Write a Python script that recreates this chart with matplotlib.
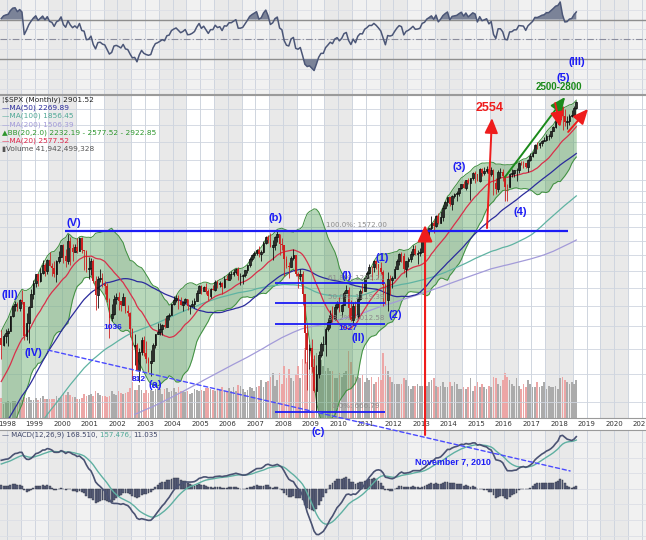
import numpy as np
import pandas as pd
import matplotlib
matplotlib.use("Agg")
import matplotlib.pyplot as plt
from matplotlib.patches import ConnectionPatch

# $SPX monthly closes from Jan 1986 (bars before Oct 1997 only warm up the indicators)
first_year = 1986
spx_close = [
    211.78, 226.92, 238.90, 235.52, 247.35, 250.84, 236.12, 252.93, 231.32, 243.98, 249.22, 242.17,  # 1986
    274.08, 284.20, 291.70, 288.36, 290.10, 304.00, 318.66, 329.80, 321.83, 251.79, 230.30, 247.08,  # 1987
    257.07, 267.82, 258.89, 261.33, 262.16, 273.50, 272.02, 261.52, 271.91, 278.97, 273.70, 277.72,  # 1988
    297.47, 288.86, 294.87, 309.64, 320.52, 317.98, 346.08, 351.45, 349.15, 340.36, 345.99, 353.40,  # 1989
    329.08, 331.89, 339.94, 330.80, 361.23, 358.02, 356.15, 322.56, 306.05, 304.00, 322.22, 330.22,  # 1990
    343.93, 367.07, 375.22, 375.35, 389.83, 371.16, 387.81, 395.43, 387.86, 392.46, 375.22, 417.09,  # 1991
    408.79, 412.70, 403.69, 414.95, 415.35, 408.14, 424.21, 414.03, 417.80, 418.68, 431.35, 435.71,  # 1992
    438.78, 443.38, 451.67, 440.19, 450.19, 450.53, 448.13, 463.56, 458.93, 467.83, 461.79, 466.45,  # 1993
    481.61, 467.14, 445.77, 450.91, 456.50, 444.27, 458.26, 475.49, 462.69, 472.35, 453.69, 459.27,  # 1994
    470.42, 487.39, 500.71, 514.71, 533.40, 544.75, 562.06, 561.88, 584.41, 581.50, 605.37, 615.93,  # 1995
    636.02, 640.43, 645.50, 654.17, 669.12, 670.63, 639.95, 651.99, 687.33, 705.27, 757.02, 740.74,  # 1996
    786.16, 790.82, 757.12, 801.34, 848.28, 885.14, 954.31, 899.47, 947.28, 914.62, 955.40, 970.43,  # 1997
    980.28, 1049.34, 1101.75, 1111.75, 1090.82, 1133.84, 1120.67, 957.28, 1017.01, 1098.67, 1163.63, 1229.23,  # 1998
    1279.64, 1238.33, 1286.37, 1335.18, 1301.84, 1372.71, 1328.72, 1320.41, 1282.71, 1362.93, 1388.91, 1469.25,  # 1999
    1394.46, 1366.42, 1498.58, 1452.43, 1420.60, 1454.60, 1430.83, 1517.68, 1436.51, 1429.40, 1314.95, 1320.28,  # 2000
    1366.01, 1239.94, 1160.33, 1249.46, 1255.82, 1224.42, 1211.23, 1133.58, 1040.94, 1059.78, 1139.45, 1148.08,  # 2001
    1130.20, 1106.73, 1147.39, 1076.92, 1067.14, 989.82, 911.62, 916.07, 815.28, 885.76, 936.31, 879.82,  # 2002
    855.70, 841.15, 848.18, 916.92, 963.59, 974.50, 990.31, 1008.01, 995.97, 1050.71, 1058.20, 1111.92,  # 2003
    1131.13, 1144.94, 1126.21, 1107.30, 1120.68, 1140.84, 1101.72, 1104.24, 1114.58, 1130.20, 1173.82, 1211.92,  # 2004
    1181.27, 1203.60, 1180.59, 1156.85, 1191.50, 1191.33, 1234.18, 1220.33, 1228.81, 1207.01, 1249.48, 1248.29,  # 2005
    1280.08, 1280.66, 1294.83, 1310.61, 1270.09, 1270.20, 1276.66, 1303.82, 1335.85, 1377.94, 1400.63, 1418.30,  # 2006
    1438.24, 1406.82, 1420.86, 1482.37, 1530.62, 1503.35, 1455.27, 1473.99, 1526.75, 1549.38, 1481.14, 1468.36,  # 2007
    1378.55, 1330.63, 1322.70, 1385.59, 1400.38, 1280.00, 1267.38, 1282.83, 1166.36, 968.75, 896.24, 903.25,  # 2008
    825.88, 735.09, 797.87, 872.81, 919.14, 919.32, 987.48, 1020.62, 1057.08, 1036.19, 1095.63, 1115.10,  # 2009
    1073.87, 1104.49, 1169.43, 1186.69, 1089.41, 1030.71, 1101.60, 1049.33, 1141.20, 1183.26, 1180.55, 1257.64,  # 2010
    1286.12, 1327.22, 1325.83, 1363.61, 1345.20, 1320.64, 1292.28, 1218.89, 1131.42, 1253.30, 1246.96, 1257.60,  # 2011
    1312.41, 1365.68, 1408.47, 1397.91, 1310.33, 1362.16, 1379.32, 1406.58, 1440.67, 1412.16, 1416.18, 1426.19,  # 2012
    1498.11, 1514.68, 1569.19, 1597.57, 1630.74, 1606.28, 1685.73, 1632.97, 1681.55, 1756.54, 1805.81, 1848.36,  # 2013
    1782.59, 1859.45, 1872.34, 1883.95, 1923.57, 1960.23, 1930.67, 2003.37, 1972.29, 2018.05, 2067.56, 2058.90,  # 2014
    1994.99, 2104.50, 2067.89, 2085.51, 2107.39, 2063.11, 2103.84, 1972.18, 1920.03, 2079.36, 2080.41, 2043.94,  # 2015
    1940.24, 1932.23, 2059.74, 2065.30, 2096.95, 2098.86, 2173.60, 2170.95, 2168.27, 2126.15, 2198.81, 2238.83,  # 2016
    2278.87, 2363.64, 2362.72, 2384.20, 2411.80, 2423.41, 2470.30, 2471.65, 2519.36, 2575.26, 2647.58, 2673.61,  # 2017
    2823.81, 2713.83, 2640.87, 2648.05, 2705.27, 2718.37, 2816.29, 2901.52,  # 2018
]
shown_from = (1997 - first_year) * 12 + 9   # first drawn bar: Oct 1997

# highs / lows / volume (billions) of the drawn bars, Oct 1997 .. Aug 2018
spx_high = [
    983.1, 963.1, 986.3,
    992.7, 1051.0, 1105.7, 1130.5, 1123.0, 1138.0, 1190.6, 1121.0, 1066.0, 1103.8, 1193.0, 1244.9,
    1280.3, 1283.8, 1316.6, 1371.6, 1347.8, 1376.8, 1420.3, 1352.9, 1361.9, 1373.2, 1427.0, 1473.1,
    1478.0, 1444.6, 1552.9, 1527.2, 1481.5, 1474.6, 1517.3, 1525.2, 1530.1, 1436.5, 1438.5, 1389.1,
    1383.4, 1376.4, 1267.4, 1269.3, 1315.9, 1286.6, 1239.8, 1226.3, 1141.8, 1110.6, 1163.4, 1173.0,
    1176.6, 1130.2, 1173.9, 1147.8, 1106.6, 1070.7, 994.5, 965.0, 924.0, 900.9, 951.6, 954.3,
    935.0, 864.6, 895.9, 924.2, 965.4, 1015.3, 1015.4, 1011.0, 1040.3, 1053.8, 1063.7, 1112.6,
    1155.4, 1159.0, 1163.2, 1150.6, 1127.7, 1146.3, 1140.8, 1108.6, 1131.5, 1142.1, 1188.5, 1217.9,
    1217.8, 1212.4, 1229.1, 1191.9, 1199.6, 1219.6, 1245.2, 1245.9, 1243.1, 1233.3, 1270.6, 1275.8,
    1294.9, 1297.6, 1310.9, 1318.2, 1326.7, 1290.7, 1280.4, 1306.7, 1340.3, 1389.5, 1407.9, 1431.8,
    1441.6, 1461.6, 1438.9, 1498.0, 1535.6, 1540.6, 1555.9, 1503.9, 1538.7, 1576.1, 1552.8, 1523.6,
    1471.8, 1396.0, 1359.7, 1397.0, 1440.2, 1404.1, 1292.2, 1313.2, 1303.0, 1167.0, 1007.5, 918.9,
    943.9, 875.0, 833.0, 888.7, 930.2, 956.2, 996.7, 1039.5, 1080.2, 1101.4, 1113.7, 1130.4,
    1150.5, 1112.4, 1180.2, 1219.8, 1206.1, 1131.2, 1121.0, 1129.2, 1148.7, 1196.1, 1227.1, 1262.6,
    1302.7, 1344.1, 1332.3, 1370.6, 1370.6, 1345.2, 1356.5, 1307.4, 1229.3, 1292.7, 1277.6, 1269.4,
    1333.5, 1378.0, 1419.2, 1422.4, 1415.3, 1363.5, 1391.7, 1426.7, 1474.5, 1471.0, 1434.3, 1448.0,
    1509.9, 1530.9, 1570.3, 1597.6, 1687.2, 1654.2, 1698.8, 1709.7, 1729.9, 1775.2, 1813.6, 1849.4,
    1850.8, 1867.9, 1884.0, 1897.3, 1924.0, 1968.2, 1991.4, 2005.0, 2019.3, 2018.2, 2075.8, 2093.6,
    2064.4, 2119.6, 2117.5, 2125.9, 2134.7, 2129.9, 2132.8, 2112.7, 2020.9, 2094.3, 2116.5, 2104.3,
    2038.2, 1963.0, 2072.2, 2111.0, 2099.1, 2120.6, 2177.1, 2193.8, 2187.9, 2169.6, 2214.1, 2277.5,
    2301.0, 2371.5, 2401.0, 2398.2, 2418.7, 2453.8, 2484.0, 2490.9, 2519.4, 2582.0, 2657.7, 2695.0,
    2872.9, 2836.0, 2801.9, 2717.5, 2742.2, 2791.5, 2848.0, 2916.5,
]
spx_low = [
    855.3, 912.0, 924.9,
    912.8, 980.0, 1047.0, 1076.7, 1074.0, 1074.6, 1114.0, 940.0, 939.7, 923.3, 1098.0, 1136.9,
    1205.5, 1211.9, 1234.6, 1282.0, 1271.9, 1281.4, 1328.7, 1268.4, 1261.9, 1233.7, 1348.0, 1387.4,
    1350.1, 1325.1, 1346.6, 1339.4, 1361.1, 1420.6, 1413.9, 1430.8, 1419.4, 1305.8, 1294.9, 1254.1,
    1274.6, 1228.5, 1081.2, 1091.9, 1232.0, 1203.0, 1165.5, 1124.9, 944.8, 1026.8, 1054.3, 1114.9,
    1081.7, 1074.4, 1106.7, 1063.5, 1048.9, 952.9, 775.7, 833.4, 815.3, 768.6, 872.0, 869.5,
    840.3, 806.3, 788.9, 847.9, 902.8, 963.6, 962.1, 960.8, 990.4, 996.0, 1031.2, 1053.4,
    1105.1, 1124.4, 1087.1, 1107.2, 1076.3, 1113.3, 1078.8, 1060.7, 1101.3, 1090.2, 1127.6, 1173.8,
    1163.8, 1180.5, 1163.7, 1136.2, 1146.2, 1188.3, 1183.6, 1201.1, 1205.4, 1168.2, 1201.1, 1246.6,
    1245.7, 1253.6, 1268.0, 1280.7, 1245.3, 1219.3, 1224.5, 1261.3, 1290.9, 1327.1, 1361.0, 1385.9,
    1404.0, 1389.4, 1364.0, 1416.4, 1476.7, 1484.2, 1454.3, 1370.6, 1439.3, 1489.6, 1406.1, 1435.7,
    1270.1, 1316.8, 1257.0, 1324.3, 1373.1, 1272.0, 1200.4, 1247.4, 1106.4, 839.8, 741.0, 815.7,
    804.3, 734.5, 666.8, 783.3, 866.1, 888.9, 869.3, 978.5, 992.3, 1020.2, 1029.4, 1085.9,
    1071.6, 1044.5, 1105.4, 1170.7, 1040.8, 1028.3, 1010.9, 1039.7, 1041.3, 1131.9, 1173.0, 1180.9,
    1257.6, 1282.9, 1249.0, 1294.7, 1311.8, 1258.1, 1282.9, 1101.5, 1114.2, 1074.8, 1158.7, 1202.4,
    1258.9, 1312.4, 1340.0, 1357.4, 1291.0, 1266.7, 1325.4, 1354.7, 1396.6, 1403.3, 1343.4, 1398.1,
    1426.2, 1485.0, 1501.5, 1536.0, 1581.3, 1560.3, 1604.6, 1627.5, 1633.4, 1646.5, 1746.2, 1768.0,
    1770.5, 1737.9, 1834.4, 1814.4, 1859.8, 1916.0, 1930.7, 1904.8, 1964.0, 1820.7, 2001.0, 1972.6,
    1988.1, 1980.9, 2039.7, 2048.4, 2067.9, 2056.3, 2044.0, 1867.0, 1871.9, 1893.7, 2019.4, 1993.3,
    1812.3, 1810.1, 1937.1, 2033.8, 2025.9, 1991.7, 2074.0, 2147.6, 2119.1, 2114.7, 2084.0, 2187.4,
    2233.6, 2271.7, 2322.3, 2329.0, 2352.7, 2405.7, 2407.7, 2417.4, 2446.6, 2520.4, 2566.2, 2605.5,
    2682.4, 2532.7, 2585.9, 2553.8, 2594.6, 2698.7, 2699.0, 2796.3,
]
volume_bn = [
    22, 16, 18,
    19, 17, 19, 19, 17, 18, 20, 23, 22, 23, 20, 20,
    22, 20, 22, 24, 21, 21, 21, 21, 21, 24, 22, 23,
    27, 26, 29, 26, 23, 23, 21, 21, 22, 27, 24, 26,
    27, 24, 30, 28, 26, 25, 25, 23, 25, 30, 27, 26,
    30, 28, 27, 28, 29, 33, 40, 31, 31, 37, 31, 28,
    31, 28, 31, 30, 32, 34, 32, 27, 32, 33, 29, 30,
    33, 29, 34, 30, 30, 29, 30, 27, 28, 32, 31, 30,
    31, 30, 33, 33, 32, 31, 30, 31, 31, 34, 30, 30,
    33, 30, 35, 30, 37, 36, 32, 29, 31, 34, 33, 30,
    34, 36, 42, 35, 40, 41, 46, 50, 36, 42, 50, 38,
    58, 45, 54, 45, 41, 49, 58, 44, 66, 78, 62, 56,
    58, 66, 72, 68, 64, 58, 52, 56, 52, 52, 44, 44,
    50, 46, 50, 52, 74, 62, 48, 46, 46, 44, 48, 40,
    44, 42, 46, 38, 40, 46, 42, 72, 58, 52, 46, 40,
    38, 38, 38, 38, 44, 42, 36, 32, 36, 36, 38, 36,
    36, 38, 36, 40, 42, 44, 36, 34, 36, 40, 34, 34,
    40, 36, 40, 38, 32, 32, 34, 32, 34, 44, 30, 36,
    40, 34, 38, 34, 32, 36, 34, 46, 44, 38, 36, 42,
    50, 46, 42, 38, 36, 44, 36, 32, 38, 34, 42, 38,
    34, 34, 40, 34, 36, 40, 32, 36, 34, 34, 36, 32,
    44, 46, 42, 40, 38, 40, 38, 41.94,
]
years = list(range(1998, 2022))

# fibonacci retracement 2007 top -> 2009 bottom
fib_top, fib_bottom = 1572.00, 666.79
fib_pcts = [100.0, 61.8, 50.0, 38.2, 0.0]

legend_rows = [
    ("¦$SPX (Monthly) 2901.52", "#222222"),
    ("—MA(50) 2269.89", "#2b2b9c"),
    ("—MA(100) 1856.45", "#4fa896"),
    ("—MA(200) 1506.39", "#a39bd9"),
    ("▲BB(20,2.0) 2232.19 - 2577.52 - 2922.85", "#2d962d"),
    ("—MA(20) 2577.52", "#e0284a"),
    ("▮Volume 41,942,499,328", "#555555"),
]

# ---------- indicators ----------
close = np.array(spx_close, dtype=float)
t_all = first_year + (np.arange(len(close)) + 0.5) / 12
s = pd.Series(close)
ma20 = s.rolling(20).mean().values
ma50 = s.rolling(50).mean().values
ma100 = s.rolling(100).mean().values
ma200 = s.rolling(200).mean().values
sd20 = s.rolling(20).std(ddof=0).values
bb_up, bb_dn = ma20 + 2 * sd20, ma20 - 2 * sd20

diff = np.diff(close)
gain, loss = np.clip(diff, 0, None), np.clip(-diff, 0, None)
rsi = np.full(len(close), np.nan)
ag, al = gain[:14].mean(), loss[:14].mean()
rsi[14] = 100 - 100 / (1 + ag / al)
for i in range(15, len(close)):
    ag = (ag * 13 + gain[i - 1]) / 14
    al = (al * 13 + loss[i - 1]) / 14
    rsi[i] = 100 - 100 / (1 + ag / al)

macd = s.ewm(span=12, adjust=False).mean().values - s.ewm(span=26, adjust=False).mean().values
signal = pd.Series(macd).ewm(span=9, adjust=False).mean().values
hist = macd - signal

sl = slice(shown_from, None)
t = t_all[sl]
c = close[sl]
o = close[shown_from - 1:-1]
hi, lo = np.array(spx_high), np.array(spx_low)
up = c >= o

# ---------- layout ----------
W, H = 646, 540
fig = plt.figure(figsize=(W / 100, H / 100), dpi=100)
fig.patch.set_facecolor("white")

def rows(top, bottom):
    return [0, 1 - bottom / H, 1, (bottom - top) / H]

ax_rsi = fig.add_axes(rows(0, 94))
ax = fig.add_axes(rows(95, 418), sharex=ax_rsi)
ax_vol = ax.twinx()
ax_macd = fig.add_axes(rows(430, 540), sharex=ax_rsi)
ax.set_zorder(2)
ax.patch.set_visible(False)

x0, x1 = 1997.746, 2021.15
grid_c = "#cfd5df"
for a in (ax_rsi, ax_vol, ax_macd):
    a.set_facecolor("#f1f1f1")
    for y in range(1997, 2022, 2):
        a.axvspan(y + 0.5, y + 1.5, color="#e9e9e9", lw=0, zorder=0)
    for g in np.arange(1997.5, 2021.5, 0.5):
        a.axvline(g, color=grid_c, lw=0.7, zorder=0.5)
for a in (ax_rsi, ax, ax_vol, ax_macd):
    a.set_xlim(x0, x1)
    for sp in a.spines.values():
        sp.set_visible(False)
    a.tick_params(left=False, right=False, labelleft=False, labelright=False,
                  which="both")
for a in (ax_rsi, ax_macd, ax_vol):
    a.tick_params(axis="x", bottom=False, labelbottom=False)

# ---------- RSI panel ----------
ax_rsi.set_ylim(-5.4, 89.75)
for g in range(0, 90, 10):
    ax_rsi.axhline(g, color="#dcdfe6", lw=0.6, zorder=0.6)
ax_rsi.axhline(70, color="#8e8e8e", lw=1.0, zorder=1)
ax_rsi.axhline(30, color="#8e8e8e", lw=1.0, zorder=1)
ax_rsi.axhline(50, color="#8a8c9c", lw=0.8, ls=(0, (6, 2, 1, 2)), zorder=1)
r = rsi[sl]
ax_rsi.fill_between(t, 70, r, where=r > 70, interpolate=True, color="#7b8398", lw=0, zorder=2)
ax_rsi.fill_between(t, 30, r, where=r < 30, interpolate=True, color="#7b8398", lw=0, zorder=2)
ax_rsi.plot(t, r, color="#4b5677", lw=1.1, zorder=3)
ax_rsi.spines["bottom"].set_visible(True)
ax_rsi.spines["bottom"].set_color("#9a9a9a")

# ---------- price panel ----------
ax.set_yscale("log")
ax.set_ylim(648.0, 2994.8)
ax.yaxis.set_major_locator(matplotlib.ticker.NullLocator())
ax.yaxis.set_minor_locator(matplotlib.ticker.NullLocator())
for lvl in [700, 800, 900, 1000, 1100, 1200, 1300, 1400, 1500, 1600, 1700, 1800,
            1900, 2000, 2200, 2400, 2600, 2800]:
    ax.axhline(lvl, color=grid_c, lw=0.6, zorder=0.5)
ax.spines["top"].set_visible(True)
ax.spines["bottom"].set_visible(True)
ax.spines["top"].set_color("#9a9a9a")
ax.spines["bottom"].set_color("#9a9a9a")

ax_vol.set_ylim(0, 359)
ax_vol.bar(t, volume_bn, width=0.062, color=np.where(up, "#ababab", "#eca6a6"), lw=0, zorder=2)

ax.fill_between(t, bb_dn[sl], bb_up[sl], color="#45994a", alpha=0.38, lw=0, zorder=1)
ax.plot(t, bb_up[sl], color="#3f8f3f", lw=0.7, zorder=1.5)
ax.plot(t, bb_dn[sl], color="#3f8f3f", lw=0.7, zorder=1.5)
ax.plot(t, ma200[sl], color="#a39bd9", lw=0.9, zorder=2)
ax.plot(t, ma100[sl], color="#5fb3a2", lw=0.9, zorder=2)
ax.plot(t, ma50[sl], color="#2b2b9c", lw=0.9, zorder=2)
ax.plot(t, ma20[sl], color="#d9304a", lw=0.9, zorder=2)

ax.vlines(t[up], lo[up], hi[up], color="#111111", lw=0.6, zorder=3)
ax.vlines(t[~up], lo[~up], hi[~up], color="#cc2020", lw=0.6, zorder=3)
ax.bar(t[up], (c - o)[up], bottom=o[up], width=0.062, facecolor="none",
       edgecolor="#111111", lw=0.6, zorder=3.5)
ax.bar(t[~up], (o - c)[~up], bottom=c[~up], width=0.062, color="#cc2020", lw=0, zorder=3.5)

ax.set_xticks(years)
ax.set_xticklabels([str(y) for y in years])
ax.tick_params(axis="x", length=0, labelsize=5.0, labelcolor="#333333", pad=2.2)

# legend
for k, (txt, col) in enumerate(legend_rows):
    ax.text(0.003, (418 - 100 - k * 8.1) / 323, txt, transform=ax.transAxes, color=col,
            fontsize=5.3, va="center", ha="left", zorder=6)

# fibonacci / wave lines
blue = "#1c1cf5"
ax.hlines(fib_top, 2000.10, 2018.33, color=blue, lw=1.6, zorder=4)
for p in fib_pcts:
    val = fib_bottom + p / 100 * (fib_top - fib_bottom)
    if p != 100.0:
        ax.hlines(val, 2007.71, 2011.70, color=blue, lw=1.3, zorder=4)
    ax.text(2010.65, val * 1.012, f"{p:.1f}%: {val:.2f}", color="#8c8c8c", fontsize=5.1,
            ha="center", va="bottom", zorder=3.8)

wave_font = dict(family="Liberation Sans", weight="bold", color=blue, ha="center", va="center", zorder=7)
for txt, xx, yy in [("(III)", 1998.11, 1160), ("(IV)", 1998.94, 882), ("(V)", 2000.43, 1633),
                    ("(a)", 2003.36, 757), ("(b)", 2007.71, 1672), ("(I)", 2010.32, 1270),
                    ("(1)", 2011.59, 1383), ("(2)", 2012.06, 1056), ("(II)", 2010.72, 947),
                    ("(3)", 2014.38, 2129), ("(4)", 2016.59, 1720), ("(5)", 2018.14, 3246),
                    ("(III)", 2018.65, 3502)]:
    ax.text(xx, yy, txt, fontsize=8, **wave_font)
for txt, xx, yy in [("1036", 2001.84, 997), ("812", 2002.78, 776), ("1027", 2010.36, 988)]:
    ax.text(xx, yy, txt, fontsize=6, **wave_font)
ax.annotate("(c)", xy=(2009.27, -0.043), xycoords=("data", "axes fraction"), fontsize=8, **wave_font)

ax.text(2015.5, 2816, "2554", fontsize=9, family="Liberation Sans", weight="bold",
        color="#ee1c1c", ha="center", va="center", zorder=7)
ax.text(2018.0, 3111, "2500-2800", fontsize=7, family="Liberation Sans", weight="bold",
        color="#1b8a1b", ha="center", va="center", zorder=7)

arrow = dict(arrowstyle="-|>,head_length=0.9,head_width=0.4", lw=1.4, mutation_scale=10,
             shrinkA=0, shrinkB=0)
ax.annotate("", xy=(2015.57, 2685), xytext=(2015.39, 1594),
            arrowprops=dict(color="#ee1c1c", **arrow), zorder=6)
ax.annotate("", xy=(2018.22, 2966), xytext=(2016.04, 2030),
            arrowprops=dict(color="#1b8a1b", **arrow), zorder=6)
ax.annotate("", xy=(2018.04, 2573), xytext=(2017.86, 2883),
            arrowprops=dict(color="#ee1c1c", **arrow), zorder=6)
ax.annotate("", xy=(2019.05, 2803), xytext=(2018.33, 2514),
            arrowprops=dict(color="#ee1c1c", **arrow), zorder=6)

# ---------- MACD panel ----------
ax_macd.set_ylim(-164.5, 190)
for g in range(-150, 200, 50):
    ax_macd.axhline(g, color="#dcdfe6", lw=0.6, zorder=0.6)
ax_macd.bar(t, hist[sl], width=0.07, color="#5d6480", edgecolor="#2b2f3f", lw=0.3, zorder=2)
ax_macd.plot(t, signal[sl], color="#5fb0a2", lw=1.0, zorder=3)
ax_macd.plot(t, macd[sl], color="#4a5272", lw=1.2, zorder=3)
ax_macd.spines["top"].set_visible(True)
ax_macd.spines["top"].set_color("#9a9a9a")
m1 = ax_macd.text(0.003, 0.955, "— MACD(12,26,9) 168.510, ", transform=ax_macd.transAxes,
                  fontsize=5.0, color="#3f4668", va="center", ha="left", zorder=6)
m2 = ax_macd.annotate("157.476, ", xy=(1, 0), xycoords=m1, fontsize=5.0, color="#4fa896",
                      va="bottom", ha="left", zorder=6)
ax_macd.annotate("11.035", xy=(1, 0), xycoords=m2, fontsize=5.0, color="#3f4668",
                 va="bottom", ha="left", zorder=6)
ax_macd.text(2014.16, 87, "November 7, 2010", fontsize=6.4, family="Liberation Sans",
             weight="bold", color=blue, ha="center", va="center", zorder=6)

# cross-panel lines
fig.add_artist(ConnectionPatch(xyA=(1999.486, 894), coordsA=ax.transData,
                               xyB=(2018.40, 58), coordsB=ax_macd.transData,
                               color="#4a4aff", lw=1.0, ls=(0, (3, 2)), zorder=5))
fig.add_artist(ConnectionPatch(xyA=(2013.145, 174), coordsA=ax_macd.transData,
                               xyB=(2013.145, 1617), coordsB=ax.transData,
                               color="#ee1c1c", lw=1.5, zorder=5,
                               arrowstyle="-|>,head_length=1.0,head_width=0.45",
                               mutation_scale=10, shrinkA=0, shrinkB=0))

fig.savefig("out.png", dpi=100, facecolor=fig.get_facecolor())
